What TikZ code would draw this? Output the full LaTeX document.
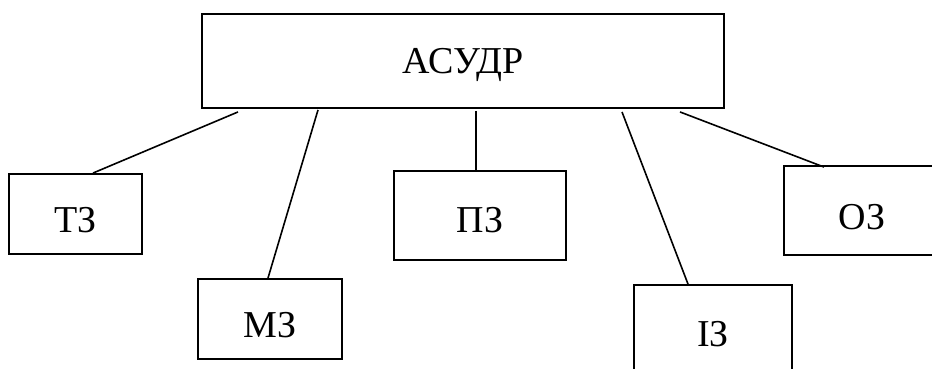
\documentclass[tikz,border=0pt]{standalone}
\usepackage{fontspec}
\setmainfont{Liberation Serif}
\usepackage{tikz}
\usepackage{xcolor}

\begin{document}
\begin{tikzpicture}[x=1pt,y=-1pt,
    box/.style={draw,line width=1.9pt,rectangle,inner sep=0pt,
      font=\fontsize{38}{40}\selectfont,text height=37pt,text depth=0pt},
    link/.style={line width=1.6pt}]
    \useasboundingbox (0,0) rectangle (932,368);

    % Top system box
    \node[box,minimum width=522pt,minimum height=94pt,text height=25pt] (asudr) at (463,61) {АСУДР};

    % Sub-systems
    \node[box,minimum width=133pt,minimum height=80pt] (tz) at (75.5,214) {ТЗ};
    \node[box,minimum width=144pt,minimum height=80pt] (mz) at (270,319) {МЗ};
    \node[box,minimum width=172pt,minimum height=89pt,text height=33pt] (pz) at (480,215.5) {ПЗ};
    \node[box,minimum width=158pt,minimum height=90pt,text height=33pt] (iz) at (713,330) {ІЗ};
    \node[box,minimum width=156pt,minimum height=89pt] (oz) at (862,210.5) {ОЗ};

    % Links from the top box
    \draw[link] ([xshift=-225pt,yshift=-3pt]asudr.south) -- ([xshift=17.5pt]tz.north);
    \draw[link] ([xshift=-145pt,yshift=-1pt]asudr.south) -- ([xshift=-2pt]mz.north);
    \draw[link] ([xshift=13pt,yshift=-2pt]asudr.south) -- ([xshift=-4pt]pz.north);
    \draw[link] ([xshift=159pt,yshift=-3pt]asudr.south) -- ([xshift=-25pt]iz.north);
    \draw[link] ([xshift=217pt,yshift=-3pt]asudr.south) -- ([xshift=-38pt,yshift=-2pt]oz.north);
\end{tikzpicture}
\end{document}
